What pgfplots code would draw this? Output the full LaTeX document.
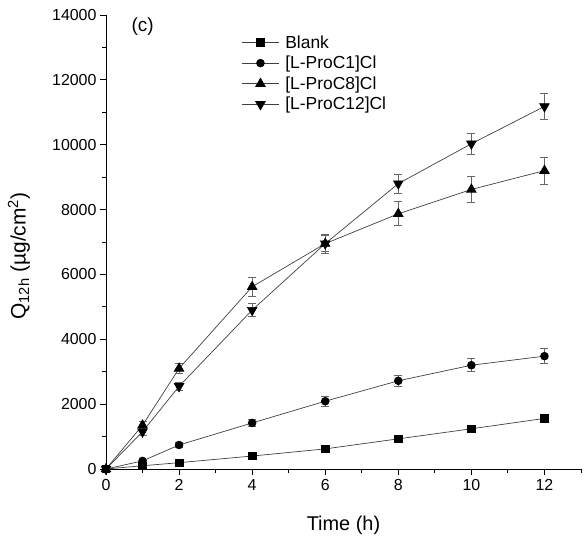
\documentclass[border=0pt]{standalone}
\usepackage{pgfplots}
\pgfplotsset{compat=1.18}
\usepackage{fontspec}
\setmainfont{Liberation Sans}

\begin{document}
\begin{tikzpicture}
\begin{axis}[
    scale only axis,
    width=475bp, height=454bp,
    xmin=0, xmax=13,
    ymin=0, ymax=14000,
    xtick={0,2,...,12},
    minor xtick={1,3,...,13},
    ytick={0,2000,...,14000},
    minor ytick={1000,3000,...,13000},
    axis x line*=bottom,
    axis y line*=left,
    tick align=outside,
    major tick length=6bp,
    minor tick length=3.5bp,
    every tick/.style={black, line width=0.9pt},
    axis line style={line width=0.9pt},
    scaled y ticks=false,
    /pgf/number format/1000 sep={},
    /pgf/number format/assume math mode=true,
    tick label style={font=\fontsize{16}{18}\selectfont},
    xticklabel style={yshift=-1bp},
    xlabel={Time (h)},
    ylabel={Q\textsubscript{12h} (µg/cm\textsuperscript{2})},
    label style={font=\fontsize{20}{22}\selectfont},
    xlabel style={at={(rel axis cs:0.5,0)}, anchor=center, yshift=-56bp},
    ylabel style={at={(rel axis cs:0,0.5)}, anchor=center, yshift=87bp, xshift=-14bp,
        font=\fontsize{21}{23}\selectfont},
    legend style={draw=none, fill=none, at={(0.283,0.962)}, anchor=north west,
        font=\fontsize{17.5}{19}\selectfont, row sep=2.5bp, inner sep=1bp,
        /tikz/every odd column/.append style={column sep=4bp}},
    legend cell align=left,
    legend image code/.code={%
        \draw[mark repeat=2, mark phase=2, #1]
            plot coordinates {(0bp,0bp) (18.5bp,0bp) (37bp,0bp)};},
    every axis plot/.append style={line width=0.7pt, color=black!75},
    error bars/y dir=both,
    error bars/y explicit,
    error bars/error bar style={black!60, line width=0.6pt},
    error bars/error mark options={rotate=90, mark size=4bp, black!60, line width=0.6pt},
]
\coordinate (sw) at (rel axis cs:0,0);
\coordinate (ne) at (rel axis cs:1,1);
\addplot[mark=square*, mark size=3.8bp, mark options={fill=black, draw=black}] coordinates {
    (0,0) +- (0,0)
    (1,100) +- (0,30)
    (2,195) +- (0,40)
    (4,400) +- (0,50)
    (6,620) +- (0,60)
    (8,930) +- (0,80)
    (10,1240) +- (0,90)
    (12,1560) +- (0,100)
};
\addlegendentry{Blank}
\addplot[mark=*, mark size=3.9bp, mark options={fill=black, draw=black}] coordinates {
    (0,0) +- (0,0)
    (1,250) +- (0,50)
    (2,740) +- (0,80)
    (4,1420) +- (0,100)
    (6,2090) +- (0,150)
    (8,2720) +- (0,180)
    (10,3200) +- (0,200)
    (12,3480) +- (0,230)
};
\addlegendentry{[L-ProC1]Cl}
\addplot[mark=triangle*, mark size=5.5bp, mark options={fill=black, draw=black}] coordinates {
    (0,0) +- (0,0)
    (1,1350) +- (0,120)
    (2,3100) +- (0,150)
    (4,5620) +- (0,300)
    (6,6950) +- (0,300)
    (8,7870) +- (0,370)
    (10,8620) +- (0,400)
    (12,9200) +- (0,420)
};
\addlegendentry{[L-ProC8]Cl}
\addplot[mark=triangle*, mark size=5.5bp, mark options={fill=black, draw=black, rotate=180}] coordinates {
    (0,0) +- (0,0)
    (1,1150) +- (0,100)
    (2,2550) +- (0,120)
    (4,4900) +- (0,200)
    (6,6950) +- (0,250)
    (8,8800) +- (0,300)
    (10,10030) +- (0,330)
    (12,11180) +- (0,400)
};
\addlegendentry{[L-ProC12]Cl}
\node[font=\fontsize{19}{21}\selectfont] at (axis cs:1.0,13650) {(c)};
\end{axis}
\pgfresetboundingbox
\path ([xshift=-106bp,yshift=-69bp]sw) rectangle ([xshift=4bp,yshift=15bp]ne);
\end{tikzpicture}
\end{document}
